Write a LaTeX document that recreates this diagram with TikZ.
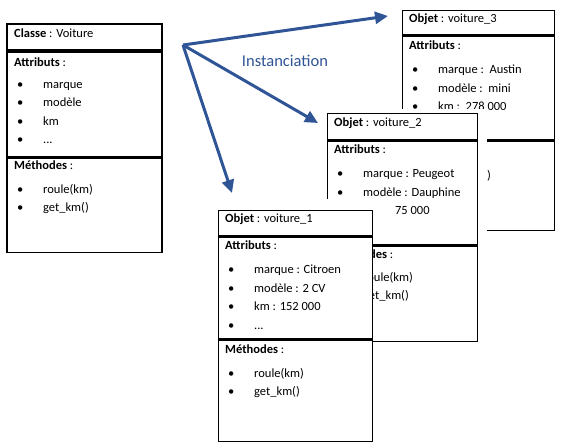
\documentclass[tikz,border=0pt]{standalone}
\usepackage{fontspec}
\setmainfont{Carlito}
\usetikzlibrary{positioning,arrows.meta}

\definecolor{instblue}{RGB}{47,85,151}

\newcommand{\puce}[1]{\hspace*{3pt}\makebox[26pt][l]{\textbullet}#1}

\tikzset{
    every node/.style={font=\fontsize{12.5}{18.5}\selectfont},
    classbox/.style={draw, line width=1.8pt, fill=white, minimum width=155pt, inner sep=0pt},
    objbox/.style={draw, line width=1.3pt, fill=white, inner sep=0pt},
    marge/.style={fill=white, inner sep=0pt},
    boxtitle/.style={inner sep=0pt, yshift=3.5pt},
    boxlist/.style={inner sep=0pt, align=left},
    instance/.style={draw=instblue, line width=3pt, -{Triangle[length=13pt,width=12pt]}},
}

\begin{document}
\begin{tikzpicture}[x=1pt, y=-1pt]
    \useasboundingbox (0,0) rectangle (563,443);

    % la classe
    \node[classbox, minimum height=26pt, anchor=north west] (c-titre) at (6,23) {};
    \node[classbox, minimum height=105pt, below=0pt of c-titre] (c-attr) {};
    \node[classbox, minimum height=94pt, below=0pt of c-attr] (c-meth) {};
    \node[boxtitle, right=8pt of c-titre.west] (c-nom) {\textbf{Classe} : Voiture};
    \node[boxlist, below right=7pt and 8pt of c-attr.north west] (c-attr-txt)
        {\textbf{Attributs} :\\[3pt] \puce{marque}\\ \puce{modèle}\\ \puce{km}\\ \puce{...}};
    \node[boxlist, below right=3pt and 8pt of c-meth.north west] (c-meth-txt)
        {\textbf{Méthodes} :\\[5pt] \puce{roule(km)}\\ \puce{get\_km()}};

    % instanciation
    \coordinate (inst) at (183,45);
    \coordinate (fin3) at (388,16);
    \coordinate (fin2) at (318,123);
    \coordinate (fin1) at (232,193);
    \draw[instance] (inst) -- (fin3);
    \draw[instance] (inst) -- (fin2);
    \draw[instance] (inst) -- (fin1);
    \node[text=instblue, font=\fontsize{16.5}{18}\selectfont] (inst-label) at (285,61) {Instanciation};

    % objet 3
    \node[objbox, minimum width=152pt, minimum height=24pt, anchor=north west] (o3-titre) at (402,10) {};
    \node[objbox, minimum width=152pt, minimum height=104pt, below=0pt of o3-titre] (o3-attr) {};
    \node[objbox, minimum width=152pt, minimum height=89pt, below=0pt of o3-attr] (o3-meth) {};
    \node[boxtitle, right=7pt of o3-titre.west] (o3-nom) {\textbf{Objet} : voiture\_3};
    \node[boxlist, below right=5pt and 7pt of o3-attr.north west] (o3-attr-txt)
        {\textbf{Attributs} :\\[6pt] \puce{marque :\ \ Austin}\\ \puce{modèle :\ \ mini}\\ \puce{km :\ \ 278 000}};
    \node[boxlist, below right=6pt and 10pt of o3-meth.north west] (o3-meth-txt)
        {\textbf{Méthodes} :\\[5pt] \puce{roule(km)}\\ \puce{get\_km()}};

    % objet 2
    \node[marge, minimum width=160pt, minimum height=229pt, anchor=north west] (o2-marge) at (327,109) {};
    \node[objbox, minimum width=150pt, minimum height=26pt, anchor=north west] (o2-titre) at (327,113) {};
    \node[objbox, minimum width=150pt, minimum height=104pt, below=0pt of o2-titre] (o2-attr) {};
    \node[objbox, minimum width=150pt, minimum height=95pt, below=0pt of o2-attr] (o2-meth) {};
    \node[boxtitle, right=7pt of o2-titre.west] (o2-nom) {\textbf{Objet} : voiture\_2};
    \node[boxlist, below right=4pt and 7pt of o2-attr.north west] (o2-attr-txt)
        {\textbf{Attributs} :\\[6pt] \puce{marque : Peugeot}\\ \puce{modèle : Dauphine}\\ \puce{km : 175 000}};
    \node[boxlist, below right=4pt and 7pt of o2-meth.north west] (o2-meth-txt)
        {\textbf{Méthodes} :\\[4pt] \puce{roule(km)}\\ \puce{get\_km()}};

    % objet 1
    \node[marge, minimum width=176.5pt, minimum height=18pt, anchor=north west] (o1-marge) at (218,199) {};
    \node[objbox, minimum width=154pt, minimum height=25pt, anchor=north west] (o1-titre) at (218,210) {};
    \node[objbox, minimum width=154pt, minimum height=102pt, below=0pt of o1-titre] (o1-attr) {};
    \node[objbox, minimum width=154pt, minimum height=101pt, below=0pt of o1-attr] (o1-meth) {};
    \node[boxtitle, right=7pt of o1-titre.west] (o1-nom) {\textbf{Objet} : voiture\_1};
    \node[boxlist, below right=4pt and 7pt of o1-attr.north west] (o1-attr-txt)
        {\textbf{Attributs} :\\[6pt] \puce{marque : Citroen}\\ \puce{modèle : 2 CV}\\ \puce{km : 152 000}\\ \puce{...}};
    \node[boxlist, below right=5pt and 7pt of o1-meth.north west] (o1-meth-txt)
        {\textbf{Méthodes} :\\[5pt] \puce{roule(km)}\\ \puce{get\_km()}};
\end{tikzpicture}
\end{document}
